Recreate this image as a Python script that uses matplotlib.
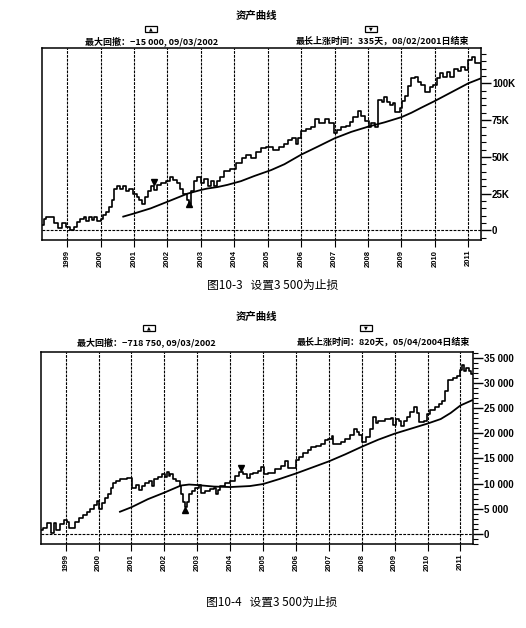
import matplotlib
matplotlib.use("Agg")
import matplotlib.pyplot as plt
from matplotlib.patches import Rectangle
from matplotlib.ticker import MultipleLocator, FixedLocator

plt.rcParams['font.family'] = ['Noto Sans CJK SC', 'DejaVu Sans']

W, H = 526, 628

# ---- 图10-3 资产曲线 (单位: K) ----
t1 = [1998.25, 1998.30, 1998.36, 1998.62, 1998.72, 1998.86, 1998.96, 1999.10, 1999.20, 1999.30,
      1999.40, 1999.50, 1999.58, 1999.66, 1999.74, 1999.82, 1999.90, 2000.00, 2000.08, 2000.16,
      2000.26, 2000.33, 2000.40, 2000.48, 2000.58, 2000.66, 2000.76, 2000.86, 2000.98, 2001.08,
      2001.16, 2001.24, 2001.32, 2001.42, 2001.52, 2001.60, 2001.70, 2001.80, 2001.95, 2002.08,
      2002.18, 2002.28, 2002.38, 2002.48, 2002.58, 2002.66, 2002.72, 2002.80, 2002.90, 2003.02,
      2003.10, 2003.20, 2003.30, 2003.40, 2003.48, 2003.58, 2003.70, 2003.88, 2004.05, 2004.22,
      2004.36, 2004.50, 2004.64, 2004.80, 2004.95, 2005.15, 2005.35, 2005.50, 2005.62, 2005.72,
      2005.85, 2005.92, 2006.00, 2006.15, 2006.30, 2006.42, 2006.52, 2006.72, 2006.84, 2006.98,
      2007.08, 2007.20, 2007.35, 2007.45, 2007.56, 2007.70, 2007.80, 2007.90, 2008.02, 2008.10,
      2008.20, 2008.30, 2008.42, 2008.48, 2008.56, 2008.66, 2008.74, 2008.82, 2008.96, 2009.02,
      2009.10, 2009.20, 2009.30, 2009.40, 2009.50, 2009.60, 2009.70, 2009.85, 2009.95, 2010.05,
      2010.15, 2010.25, 2010.35, 2010.45, 2010.58, 2010.70, 2010.78, 2010.90, 2011.00, 2011.10,
      2011.20, 2011.32, 2011.38, 2011.42]
eq1 = [3.5, 8, 9, 5, 1.5, 5, 2.5, 0, 2.5, 6,
       8, 9, 6.5, 9, 7, 9, 6.5, 8, 10.5, 12.5,
       16, 20.5, 28.5, 30, 28, 30, 26.5, 28.5, 25, 23,
       20.5, 18, 23, 26.5, 30, 27.5, 31, 32, 33.5, 36,
       34.5, 32, 28.5, 25, 21, 18, 26.5, 33.5, 36, 32,
       35, 30, 33.5, 30, 33.5, 36, 40.5, 42, 45.5, 49,
       51.5, 49, 53, 56, 57, 55, 57, 58.5, 61.5, 63,
       59, 63, 67.8, 69, 70.6, 75.5, 73, 76, 73, 66.4,
       68, 70, 71, 74, 77, 81.4, 78, 74.7, 70, 73,
       70, 88.6, 87.5, 91, 87, 85, 86.5, 80.7, 83, 88,
       91.4, 98.2, 103.4, 104.5, 101, 99, 94.3, 97.6, 99, 103.4,
       106.8, 104, 108, 104.5, 110, 108.5, 111, 109, 115.8, 117.6,
       114, 113.7, 110, 110]
ma1_t = [2000.68, 2001.0, 2001.5, 2002.0, 2002.6, 2003.0, 2003.2, 2003.5, 2003.8, 2004.2,
         2004.6, 2005.1, 2005.5, 2006.0, 2006.5, 2007.0, 2007.5, 2008.0, 2008.5, 2009.0,
         2009.3, 2009.6, 2010.0, 2010.5, 2011.0, 2011.38]
ma1 = [9.4, 11.5, 15, 19.5, 25, 27.5, 28.5, 29.5, 31, 33.5,
       37, 41, 45, 51.5, 57, 62.6, 67, 70.5, 73.5, 77,
       80, 83.5, 88, 94, 100, 103.4]
down1 = (2001.60, 32.8)
up1 = (2002.66, 18.2)
yt1 = [0, 25, 50, 75, 100]
yl1 = ['0', '25K', '50K', '75K', '100K']

# ---- 图10-4 资产曲线 (单位: 千) ----
t2 = [1998.25, 1998.32, 1998.42, 1998.55, 1998.64, 1998.72, 1998.82, 1998.94, 1999.04, 1999.10,
      1999.28, 1999.40, 1999.52, 1999.64, 1999.74, 1999.86, 1999.94, 2000.02, 2000.10, 2000.20,
      2000.30, 2000.38, 2000.45, 2000.52, 2000.65, 2000.85, 2001.02, 2001.15, 2001.22, 2001.32,
      2001.42, 2001.52, 2001.62, 2001.68, 2001.82, 2001.92, 2002.02, 2002.08, 2002.14, 2002.18,
      2002.26, 2002.36, 2002.46, 2002.52, 2002.57, 2002.62, 2002.70, 2002.74, 2002.84, 2002.94,
      2003.04, 2003.10, 2003.22, 2003.40, 2003.50, 2003.56, 2003.64, 2003.70, 2003.84, 2004.00,
      2004.15, 2004.26, 2004.40, 2004.50, 2004.60, 2004.70, 2004.84, 2004.94, 2005.02, 2005.15,
      2005.35, 2005.55, 2005.66, 2005.76, 2006.00, 2006.10, 2006.20, 2006.35, 2006.45, 2006.60,
      2006.75, 2006.88, 2006.98, 2007.08, 2007.14, 2007.38, 2007.50, 2007.64, 2007.76, 2007.84,
      2007.90, 2008.02, 2008.14, 2008.24, 2008.34, 2008.42, 2008.50, 2008.70, 2008.88, 2008.95,
      2009.04, 2009.12, 2009.18, 2009.28, 2009.38, 2009.48, 2009.58, 2009.68, 2009.74, 2009.88,
      2009.98, 2010.08, 2010.22, 2010.34, 2010.44, 2010.52, 2010.62, 2010.76, 2010.88, 2010.98,
      2011.04, 2011.10, 2011.18, 2011.26, 2011.32, 2011.40]
eq2 = [0.7, 1.2, 2.2, 0.1, 2.1, 0.8, 1.9, 2.8, 2.4, 1.2,
       2.4, 3.1, 3.8, 4.4, 5.0, 5.8, 6.6, 5.0, 6.1, 7.2,
       7.9, 9.2, 10.2, 10.6, 10.8, 11.0, 9.2, 9.8, 8.7, 9.5,
       10.2, 10.6, 9.5, 10.8, 11.2, 11.8, 11.2, 12.2, 11.4, 11.8,
       10.8, 10.5, 9.5, 7.9, 6.3, 5.3, 6.3, 7.9, 8.5, 9.2,
       9.8, 8.2, 8.5, 8.9, 9.2, 7.9, 8.7, 9.5, 10.2, 10.6,
       11.4, 12.3, 11.8, 11.0, 11.8, 12.1, 12.5, 13.3, 11.8, 12.1,
       12.8, 13.4, 14.4, 13.0, 14.7, 15.3, 16.0, 16.6, 17.2, 17.4,
       17.9, 18.7, 18.9, 19.4, 17.9, 18.3, 18.9, 19.6, 20.9, 20.2,
       19.6, 18.3, 19.3, 20.9, 23.3, 22.0, 22.5, 22.8, 23.0, 21.7,
       22.8, 22.5, 21.5, 22.5, 23.2, 24.2, 25.1, 24.0, 22.2, 22.4,
       23.8, 24.5, 25.1, 25.8, 26.4, 28.4, 30.5, 31.0, 31.3, 32.6,
       33.6, 32.4, 33.0, 32.3, 31.7, 31.7]
ma2_t = [2000.65, 2001.0, 2001.5, 2002.0, 2002.5, 2002.75, 2003.0, 2003.5, 2004.0, 2004.6,
         2005.0, 2005.5, 2006.0, 2006.5, 2007.0, 2007.5, 2008.0, 2008.5, 2009.0, 2009.5,
         2010.0, 2010.4, 2010.7, 2011.0, 2011.38]
ma2 = [4.4, 5.3, 6.9, 8.2, 9.6, 9.8, 9.7, 9.4, 9.3, 9.5,
       9.9, 10.9, 12.0, 13.2, 14.4, 15.8, 17.3, 18.7, 19.9, 20.9,
       21.9, 22.8, 24.0, 25.5, 26.6]
down2 = (2004.33, 13.0)
up2 = (2002.62, 4.7)
yt2 = [0, 5, 10, 15, 20, 25, 30, 35]
yl2 = ['0', '5 000', '10 000', '15 000', '20 000', '25 000', '30 000', '35 000']

years = list(range(1999, 2012))


def px(x, y):
    return x / W, 1 - y / H


def panel(rect, t, eq, mt, ma, down, up, yt, yl, ylim, minor):
    l, top, r, bot = rect
    ax = fig.add_axes([l / W, 1 - bot / H, (r - l) / W, (bot - top) / H])
    ax.plot(t, eq, color='black', lw=1.2, drawstyle='steps-post')
    ax.plot(mt, ma, color='black', lw=1.3)
    ax.plot(*down, marker='v', color='black', ms=4.5)
    ax.plot(*up, marker='^', color='black', ms=4.5)
    for yr in years:
        ax.axvline(yr, color='black', lw=0.8, ls=(0, (2.5, 1)))
    ax.axhline(0, color='black', lw=0.8, ls=(0, (2.5, 1.2)))
    ax.set_xlim(1998.25, 2011.38)
    ax.set_ylim(*ylim)
    ax.xaxis.set_major_locator(FixedLocator(years))
    ax.set_xticklabels([str(y) for y in years], rotation=90, fontsize=5.5,
                       fontweight='bold', family='Liberation Sans')
    ax.yaxis.tick_right()
    ax.set_yticks(yt)
    ax.set_yticklabels(yl, fontsize=7, fontweight='bold', family='Liberation Sans')
    ax.yaxis.set_minor_locator(MultipleLocator(minor))
    ax.tick_params(axis='x', direction='out', length=5, width=0.8, pad=2)
    ax.tick_params(axis='y', which='major', direction='out', length=7, width=1, pad=1)
    ax.tick_params(axis='y', which='minor', direction='out', length=3.5, width=0.8)
    for s in ax.spines.values():
        s.set_linewidth(1.1)
    return ax


def header(ytitle, yicon, ytext, ltxt, lx, rtxt, rx, iconl, iconr):
    fig.text(*px(256, ytitle), '资产曲线', ha='center', va='center', fontsize=7.5, fontweight='bold')
    for (cx, sym) in [(iconl, '▲'), (iconr, '▼')]:
        x0, y0 = px(cx - 6, yicon + 3)
        fig.add_artist(Rectangle((x0, y0), 12 / W, 6 / H, transform=fig.transFigure,
                                 fill=False, ec='black', lw=0.9))
        fig.text(*px(cx, yicon + 0.3), sym, ha='center', va='center', fontsize=3.5,
                 family='DejaVu Sans')
    fig.text(*px(lx, ytext), ltxt, ha='center', va='center', fontsize=6.5, fontweight='bold')
    fig.text(*px(rx, ytext), rtxt, ha='center', va='center', fontsize=6.5, fontweight='bold')


fig = plt.figure(figsize=(W / 100, H / 100), dpi=100)

panel((42, 48, 481, 240), t1, eq1, ma1_t, ma1, down1, up1, yt1, yl1, (-6.5, 124), 5)
header(15.5, 28.5, 41, '最大回撤：−15 000, 09/03/2002', 152,
       '最长上涨时间：335天，08/02/2001日结束', 382, 151, 371)
fig.text(*px(273, 285.5), '图10-3   设置3 500为止损', ha='center', va='center', fontsize=8.5)

panel((41, 352, 473, 544), t2, eq2, ma2_t, ma2, down2, up2, yt2, yl2, (-2, 36.1), 1)
header(316.5, 327.5, 342, '最大回撤：−718 750, 09/03/2002', 146,
       '最长上涨时间：820天，05/04/2004日结束', 383, 149, 366)
fig.text(*px(272, 602), '图10-4   设置3 500为止损', ha='center', va='center', fontsize=8.5)

fig.savefig('out.png', dpi=100, facecolor='white')
